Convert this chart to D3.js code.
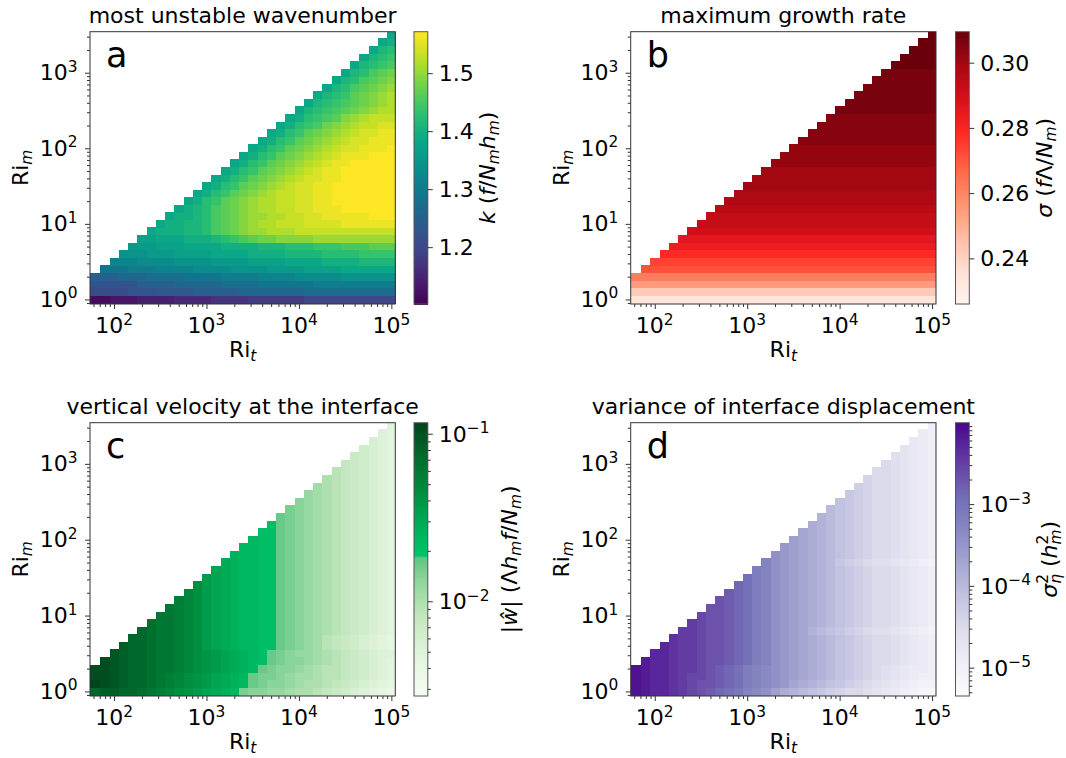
<!DOCTYPE html>
<html>
<head>
<meta charset="utf-8">
<script src="https://cdn.jsdelivr.net/npm/d3@7"></script>
<style>
  body { margin: 0; background: #fff; }
  svg { font-family: "DejaVu Sans", sans-serif; }
  .tick line { stroke: #333; }
</style>
</head>
<body>
<script>

// log10 of the grid centres
var riTExp = [1.8, 1.9, 2.0, 2.1, 2.2, 2.3, 2.4, 2.5, 2.6, 2.7, 2.8, 2.9,
              3.0, 3.1, 3.2, 3.3, 3.4, 3.5, 3.6, 3.7, 3.8, 3.9, 4.0, 4.1,
              4.2, 4.3, 4.4, 4.5, 4.6, 4.7, 4.8, 4.9, 5.0];
var riMExp = [0.0, 0.1, 0.2, 0.3, 0.4, 0.5, 0.6, 0.7, 0.8, 0.9, 1.0, 1.1,
              1.2, 1.3, 1.4, 1.5, 1.6, 1.7, 1.8, 1.9, 2.0, 2.1, 2.2, 2.3,
              2.4, 2.5, 2.6, 2.7, 2.8, 2.9, 3.0, 3.1, 3.2, 3.3, 3.4, 3.5];

// cell levels, bottom row (Ri_m = 1) first.
// one char per cell (0-9a-z = 36 steps along the colour bar range),
// rows are right aligned: the empty upper-left triangle is simply missing
var kRows = [
  "112223333444455556666667777777777",
  "8888999aaaabbbbbcccccccdddddddddd",
  "99999bbbbcccccddddeeeeeefffffffff",
  "bbbcccddddeeeeffffgggghhhhhiiiiii",
  "eeefffgggghhhhiiiijjjjkkkkllllll",
  "ggghhhhiiiijjjjkkkkllllmmmmnnnn",
  "iiijjjkkkkllllmmmmnnnnoooopppp",
  "jjjkkkllllmmmmnnnooopppqqqrrr",
  "kklllmmmnopqrssttttuuuuuuuuu",
  "lmmmnnoqrstuuvvvwwwwwwwwwww",
  "lmmnnoqrstuvvwwwxxxxyyyyyy",
  "lmmnoqrstuuvvwwxxyyyyyzzz",
  "lmnoqrstuvvwwxxyyyzzzzzz",
  "lmoprstuvvwwxxyyzzzzzzz",
  "lmoprstuvwwxxyyzzzzzzz",
  "lmoprstuvwxxyyzzzzzzz",
  "lmoprstuvwxxyyzzzzzz",
  "lmoprstuvwxyyzzzzzz",
  "lmoprstuvwxyyzzzzz",
  "lmoprstuvwxyyyzzz",
  "lmoprstuvwxxyyyz",
  "lmoprstuvwxxyyy",
  "lmoprstuvwxxyy",
  "lmopqstuvwwxx",
  "lmopqrtuvwww",
  "lnopqrstuvv",
  "lnopqrstuv",
  "lnoprstuv",
  "lnoqrstu",
  "lnoqrst",
  "lnoqrs",
  "lnopq",
  "lnop",
  "lno",
  "lm",
  "l"
];

var sigmaRows = [
  "3333333333 3333333333 3333333333 333",
  "7777777777 7777777777 7777777777 777",
  "cccccccccc cccccccccc cccccccccc ccc",
  "ffffffffff ffffffffff ffffffffff fff",
  "jjjjjjjjjj jjjjjjjjjj jjjjjjjjjj jj",
  "kkkkkkkkkk kkkkkkkkkk kkkkkkkkkk k",
  "mmmmmmmmmm mmmmmmmmmm mmmmmmmmmm",
  "oooooooooo oooooooooo ooooooooo",
  "pppppppppp pppppppppp pppppppp",
  "rrrrrrrrrr rrrrrrrrrr rrrrrrr",
  "ssssssssss ssssssssss ssssss",
  "ssssssssss ssssssssss sssss",
  "tttttttttt tttttttttt tttt",
  "uuuuuuuuuu uuuuuuuuuu uuu",
  "uuuuuuuuuu uuuuuuuuuu uu",
  "vvvvvvvvvv vvvvvvvvvv v",
  "vvvvvvvvvv vvvvvvvvvv",
  "vvvvvvvvvv vvvvvvvvv",
  "wwwwwwwwww wwwwwwww",
  "wwwwwwwwww wwwwwww",
  "wwwwwwwwww wwwwww",
  "xxxxxxxxxx xxxxx",
  "xxxxxxxxxx xxxx",
  "xxxxxxxxxx xxx",
  "xxxxxxxxxx xx",
  "yyyyyyyyyy y",
  "yyyyyyyyyy",
  "yyyyyyyyy",
  "yyyyyyyy",
  "yyyyyyy",
  "yyyyyy",
  "zzzzz",
  "zzzz",
  "zzz",
  "zz",
  "z"
];

var wRows = [
  "vwwvvutsrqponmlkgffeedccba9876543",
  "zyxwvvutsrqponmlkhgffedccba987654",
  "yyxwvvutsrqponmlkhggfeddcbba98765",
  "yyxwvvuttsrqponmlkhgffedcbba98765",
  "yxwvvuttsrqponmlkjhgffedcba98765",
  "xwvvuttsrqponmlkjhgfeedcba98766",
  "wvvuttsrqonmlkkjjhgfedba987654",
  "vvuttsrqonmlkkjjhgfedba987654",
  "vuttsrqonmlkkjjhgfedcba98765",
  "uttsrqonmlkkjjhgfedcba98765",
  "ttsrqonmlkkjjhgfedcba98765",
  "tsrqonmlkkjjhgfedcba98765",
  "srqonmlkkjjhgfedcba98765",
  "rqonmlkkjjhgfedcba98765",
  "qonmlkkjjhgfedcba98765",
  "onmlkkjjhgfedcba98765",
  "nmlkkjjhgfedcba98765",
  "mlkkjjhgfedcba98765",
  "lkkjjhgfedcba98765",
  "kkjjhgfedcba98765",
  "kjjhgfedcba98765",
  "jjhgfedcba98765",
  "jhgfedcba98765",
  "hgfedcba98765",
  "gfedcba98765",
  "fedcba98765",
  "edcba98765",
  "dcba98765",
  "cba98765",
  "ba98765",
  "a98765",
  "98765",
  "8765",
  "765",
  "65",
  "5"
];

var etaRows = [
  "yxwwvutsrqpomlkigfedcba9987654322",
  "yxwwvutssrqpnmlkjhgfedcba98765433",
  "yxwwvuttsrqpnmlkjihgfedcba9876544",
  "yxwwvuutsrqpnmlkjihgfedcba9876554",
  "xwwvuutssrqpnmkjihgfedcba9987654",
  "wwvuutssrqpnmkjihgfedcba9987654",
  "wvuutssrqpnmkjihgfedcba9987654",
  "vuutssrqpnmkjihgfedcba9987654",
  "uutssrqpnmkjihfedcba98876543",
  "utssrqpnmkjihgfedcba9987654",
  "tssrqpnmkjihgfedcba9987654",
  "ssrqpnmkjihgfedcba9987654",
  "srqpnmkjihgfedcba9987654",
  "rqpnmkjihgfedcba9987654",
  "qpnmkjihgfedcba9987654",
  "pnmkjihgfedcba9987654",
  "nmkjihgfedcba9987654",
  "mkjihgfecba98876543",
  "kjihgfedcba9987654",
  "jihgfedcba9987654",
  "ihgfedcba9987654",
  "hgfedcba9987654",
  "gfedcba9987654",
  "fedcba9987654",
  "edcba9987654",
  "dcba9987654",
  "cba9987654",
  "ba9987654",
  "a9987654",
  "9987654",
  "987654",
  "87654",
  "7654",
  "654",
  "54",
  "4"
];

// colour bar ranges
var kRange = [1.102, 1.5715];
var sigmaRange = [0.226, 0.3095];
var wRange = [0.00272, 0.1164];
var etaRange = [4.5e-6, 9.9e-3];

// tick values
var xTickVals = [1e2, 1e3, 1e4, 1e5];
var yTickVals = [1e0, 1e1, 1e2, 1e3];
var kTicks = [1.2, 1.3, 1.4, 1.5];
var sigmaTicks = [0.24, 0.26, 0.28, 0.30];
var wTicks = [1e-2, 1e-1];
var etaTicks = [1e-5, 1e-4, 1e-3];

// colour maps (sampled from the colour bars)
var kStops = [[0, "#440154"], [0.1, "#482475"], [0.2, "#3f4689"], [0.3, "#2a5c8e"],
              [0.4, "#12758e"], [0.5, "#0a8f8c"], [0.6, "#0aa887"], [0.7, "#2cc070"],
              [0.8, "#6cd24c"], [0.9, "#bddf26"], [1, "#fde725"]];
var sigmaStops = [[0, "#fff4ef"], [0.125, "#ffdfd2"], [0.25, "#ffbba1"], [0.375, "#ff9070"],
                  [0.5, "#ff6446"], [0.625, "#ff2a24"], [0.75, "#d8101a"], [0.875, "#a80812"],
                  [1, "#6a000c"]];
var wStops = [[0, "#f6fcf4"], [0.15, "#e2f4dd"], [0.3, "#c0e6bb"], [0.42, "#8ed69a"],
              [0.505, "#5ec584"], [0.515, "#00c46a"], [0.62, "#00ad58"], [0.75, "#008c3e"],
              [0.88, "#006a2c"], [1, "#00441b"]];
var etaStops = [[0, "#fbfafd"], [0.125, "#efeef6"], [0.25, "#dcdcec"], [0.375, "#c0c0e0"],
                [0.5, "#a2a2d0"], [0.625, "#8484c0"], [0.72, "#7470b8"], [0.82, "#6a4aa8"],
                [0.92, "#58259a"], [1, "#48068a"]];

var LEVELS = "0123456789abcdefghijklmnopqrstuvwxyz";
var FS = 22, SUB = 15.4;

var svg = d3.select("body").append("svg")
    .attr("width", 1066)
    .attr("height", 758);

function ramp(stops) {
  return d3.scaleLinear()
    .domain(stops.map(function(s) { return s[0]; }))
    .range(stops.map(function(s) { return s[1]; }))
    .interpolate(d3.interpolateRgb)
    .clamp(true);
}

// pcolormesh style cell edges: midpoints between centres
function edges(exps) {
  var c = exps.map(function(e) { return Math.pow(10, e); }), n = c.length;
  var e = [c[0] - (c[1] - c[0]) / 2];
  for (var k = 1; k < n; k++) e.push((c[k - 1] + c[k]) / 2);
  e.push(c[n - 1] + (c[n - 1] - c[n - 2]) / 2);
  return e;
}

function decode(rows, range, log) {
  var cells = [];
  var l0 = Math.log10(range[0]), l1 = Math.log10(range[1]);
  rows.forEach(function(r, j) {
    var s = r.replace(/ /g, "");
    var start = riTExp.length - s.length;
    for (var k = 0; k < s.length; k++) {
      var t = LEVELS.indexOf(s[k]) / 35;
      var v = log ? Math.pow(10, l0 + t * (l1 - l0)) : range[0] + t * (range[1] - range[0]);
      cells.push({i: start + k, j: j, v: v});
    }
  });
  return cells;
}

// text made of pieces: [string, kind, dx]; kind has i (italic), _ (sub), ^ (sup)
function mathText(text, segs) {
  var shift = 0;
  segs.forEach(function(s) {
    var kind = s[1] || "";
    var target = 0;
    if (kind.indexOf("_") >= 0) target = 0.2 * FS;
    if (kind.indexOf("^") >= 0) target = -0.42 * FS;
    var ts = text.append("tspan").text(s[0]).attr("dy", target - shift);
    shift = target;
    if (kind.indexOf("i") >= 0) ts.attr("font-style", "italic");
    if (target !== 0) ts.attr("font-size", SUB);
    if (s[2]) ts.attr("dx", s[2]);
  });
}

function pow10(text, exp) {
  text.append("tspan").text("10");
  text.append("tspan").attr("dy", -8.5).attr("font-size", SUB)
      .text(exp < 0 ? "\u2212" + (-exp) : exp);
}

function isMajor(v) {
  var l = Math.log10(v);
  return Math.abs(l - Math.round(l)) < 1e-6;
}

var W = 305.3, CBW = 13.8;
var xe = edges(riTExp), ye = edges(riMExp);

var panels = [
  {letter: "a", left: 90, top: 31.7, h: 272.3, cbLeft: 414, rows: kRows, range: kRange, log: false,
   stops: kStops, ticks: kTicks, fmt: ".1f", title: "most unstable wavenumber", labelX: 495,
   label: [["k", "i"], [" ("], ["f", "i"], ["/"], ["N", "i"], ["m", "i_"], ["h", "i"], ["m", "i_"], [")"]]},
  {letter: "b", left: 630.7, top: 31.7, h: 272.3, cbLeft: 955.5, rows: sigmaRows, range: sigmaRange, log: false,
   stops: sigmaStops, ticks: sigmaTicks, fmt: ".2f", title: "maximum growth rate", labelX: 1052,
   label: [["\u03c3", "i"], [" ("], ["f", "i"], ["\u039b"], ["/"], ["N", "i"], ["m", "i_"], [")"]]},
  {letter: "c", left: 90, top: 422.7, h: 273.3, cbLeft: 414, rows: wRows, range: wRange, log: true,
   stops: wStops, ticks: wTicks, title: "vertical velocity at the interface", labelX: 517,
   label: [["|"], ["\u0175", "i"], ["|"], [" ("], ["\u039b"], ["h", "i"], ["m", "i_"], ["f", "i"], ["/"], ["N", "i"], ["m", "i_"], [")"]]},
  {letter: "d", left: 630.7, top: 422.7, h: 273.3, cbLeft: 955.5, rows: etaRows, range: etaRange, log: true,
   stops: etaStops, ticks: etaTicks, title: "variance of interface displacement", labelX: 1057,
   label: [["\u03c3", "i"], ["2", "^"], ["\u03b7", "i_", -9.8], [" ("], ["h", "i"], ["2", "^"], ["m", "i_", -9.8], [")"]]}
];

panels.forEach(function(p) {
  var g = svg.append("g");
  var bottom = p.top + p.h;

  var x = d3.scaleLog().domain([xe[0], xe[xe.length - 1]]).range([p.left, p.left + W]);
  var y = d3.scaleLog().domain([ye[0], ye[ye.length - 1]]).range([bottom, p.top]);
  var color = (p.log ? d3.scaleSequentialLog() : d3.scaleSequential())
      .domain(p.range)
      .interpolator(ramp(p.stops));

  // cells
  g.append("g")
    .attr("shape-rendering", "crispEdges")
    .selectAll("rect")
    .data(decode(p.rows, p.range, p.log))
    .join("rect")
      .attr("x", function(d) { return x(xe[d.i]); })
      .attr("width", function(d) { return x(xe[d.i + 1]) - x(xe[d.i]) + 0.3; })
      .attr("y", function(d) { return y(ye[d.j + 1]); })
      .attr("height", function(d) { return y(ye[d.j]) - y(ye[d.j + 1]) + 0.3; })
      .attr("fill", function(d) { return color(d.v); });

  // x axis
  var xMinor = x.ticks().filter(function(v) { return !isMajor(v); });
  g.append("g").attr("transform", "translate(0," + bottom + ")")
    .call(d3.axisBottom(x).tickValues(xMinor).tickSize(3).tickFormat(""))
    .call(function(a) { a.select(".domain").remove(); });
  g.append("g").attr("transform", "translate(0," + bottom + ")")
    .call(d3.axisBottom(x).tickValues(xTickVals).tickSize(5).tickFormat(""))
    .call(function(a) { a.select(".domain").remove(); });
  xTickVals.forEach(function(v) {
    var t = g.append("text").attr("x", x(v)).attr("y", bottom + 29)
      .attr("text-anchor", "middle").attr("font-size", FS);
    pow10(t, Math.round(Math.log10(v)));
  });

  // y axis
  var yMinor = y.ticks().filter(function(v) { return !isMajor(v); });
  g.append("g").attr("transform", "translate(" + p.left + ",0)")
    .call(d3.axisLeft(y).tickValues(yMinor).tickSize(3).tickFormat(""))
    .call(function(a) { a.select(".domain").remove(); });
  g.append("g").attr("transform", "translate(" + p.left + ",0)")
    .call(d3.axisLeft(y).tickValues(yTickVals).tickSize(5).tickFormat(""))
    .call(function(a) { a.select(".domain").remove(); });
  yTickVals.forEach(function(v) {
    var t = g.append("text").attr("x", p.left - 12.5).attr("y", y(v) + 7.5)
      .attr("text-anchor", "end").attr("font-size", FS);
    pow10(t, Math.round(Math.log10(v)));
  });

  // frame
  g.append("rect")
    .attr("x", p.left).attr("y", p.top).attr("width", W).attr("height", p.h)
    .attr("fill", "none").attr("stroke", "#333").attr("stroke-width", 1);

  // axis labels
  var xl = g.append("text").attr("x", p.left + W / 2).attr("y", bottom + 53)
    .attr("text-anchor", "middle").attr("font-size", FS);
  mathText(xl, [["Ri"], ["t", "i_"]]);
  var yl = g.append("text")
    .attr("transform", "translate(" + (p.left - 62) + "," + (p.top + p.h / 2) + ") rotate(-90)")
    .attr("text-anchor", "middle").attr("font-size", FS);
  mathText(yl, [["Ri"], ["m", "i_"]]);

  // title and panel letter
  g.append("text").attr("x", p.left + W / 2).attr("y", p.top - 9)
    .attr("text-anchor", "middle").attr("font-size", FS).text(p.title);
  g.append("text").attr("x", p.left + 16).attr("y", p.top + 35)
    .attr("font-size", 35).text(p.letter);

  // colour bar
  var cy = (p.log ? d3.scaleLog() : d3.scaleLinear()).domain(p.range).range([bottom, p.top]);
  var N = 220, step = p.h / N;
  g.append("g")
    .attr("shape-rendering", "crispEdges")
    .selectAll("rect")
    .data(d3.range(N))
    .join("rect")
      .attr("x", p.cbLeft).attr("width", CBW)
      .attr("y", function(k) { return p.top + k * step; })
      .attr("height", step + 0.6)
      .attr("fill", function(k) { return color(cy.invert(p.top + (k + 0.5) * step)); });
  g.append("rect")
    .attr("x", p.cbLeft).attr("y", p.top).attr("width", CBW).attr("height", p.h)
    .attr("fill", "none").attr("stroke", "#555").attr("stroke-width", 1);

  var cbRight = p.cbLeft + CBW;
  if (p.log) {
    var cMinor = cy.ticks().filter(function(v) { return !isMajor(v); });
    g.append("g").attr("transform", "translate(" + cbRight + ",0)")
      .call(d3.axisRight(cy).tickValues(cMinor).tickSize(3).tickFormat(""))
      .call(function(a) { a.select(".domain").remove(); });
  }
  g.append("g").attr("transform", "translate(" + cbRight + ",0)")
    .call(d3.axisRight(cy).tickValues(p.ticks).tickSize(5).tickFormat(""))
    .call(function(a) { a.select(".domain").remove(); });
  p.ticks.forEach(function(v) {
    var t = g.append("text").attr("x", cbRight + 11).attr("y", cy(v) + 8)
      .attr("font-size", FS);
    if (p.log) pow10(t, Math.round(Math.log10(v)));
    else t.text(d3.format(p.fmt)(v));
  });

  var cl = g.append("text")
    .attr("transform", "translate(" + p.labelX + "," + (p.top + p.h / 2) + ") rotate(-90)")
    .attr("text-anchor", "middle").attr("font-size", FS);
  mathText(cl, p.label);
});

</script>
</body>
</html>
